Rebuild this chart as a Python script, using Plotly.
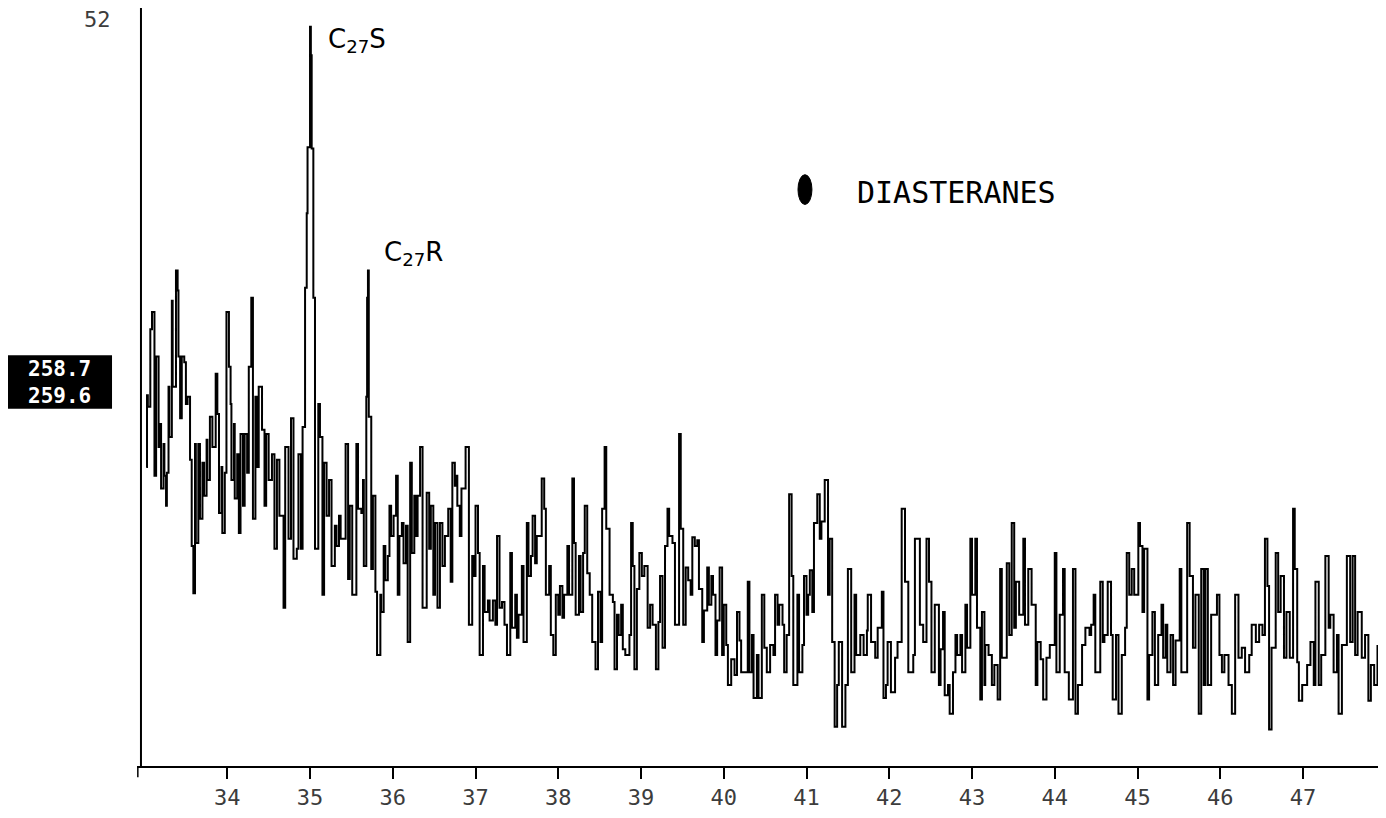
import plotly.graph_objects as go

# Retention time (min) and ion intensity (m/z 258.7-259.6)
time_min = [
33.02,33.03,33.04,33.07,33.09,33.12,33.14,33.17,33.19,33.20,33.23,33.24,33.26,33.27,33.29,33.30,33.33,33.34,33.38,33.40,
33.41,33.43,33.45,33.48,33.50,33.52,33.55,33.57,33.59,33.61,33.62,33.65,33.67,33.70,33.72,33.75,33.76,33.79,33.82,33.86,
33.88,33.90,33.93,33.94,33.97,33.99,34.02,34.04,34.05,34.08,34.09,34.12,34.14,34.16,34.19,34.21,34.24,34.26,34.29,34.31,
34.34,34.36,34.38,34.42,34.45,34.47,34.50,34.54,34.57,34.60,34.63,34.68,34.70,34.74,34.77,34.80,34.84,34.86,34.89,34.91,
34.94,34.96,34.97,35.00,35.01,35.02,35.04,35.06,35.10,35.12,35.15,35.17,35.20,35.23,35.26,35.30,35.32,35.35,35.37,35.43,
35.46,35.48,35.51,35.56,35.58,35.62,35.64,35.65,35.68,35.69,35.70,35.71,35.74,35.76,35.79,35.81,35.85,35.86,35.89,35.91,
35.94,35.96,35.98,36.01,36.04,36.06,36.08,36.11,36.13,36.16,36.18,36.21,36.23,36.26,36.28,36.30,36.33,36.36,36.41,36.44,
36.46,36.49,36.51,36.54,36.57,36.60,36.63,36.67,36.70,36.72,36.75,36.77,36.78,36.81,36.83,36.88,36.92,36.96,36.98,37.00,
37.03,37.05,37.09,37.11,37.15,37.17,37.21,37.24,37.26,37.29,37.32,37.35,37.38,37.42,37.44,37.48,37.50,37.52,37.56,37.58,
37.62,37.64,37.67,37.69,37.72,37.74,37.80,37.83,37.85,37.89,37.91,37.94,37.97,38.00,38.02,38.05,38.07,38.11,38.13,38.17,
38.19,38.21,38.25,38.27,38.30,38.32,38.35,38.38,38.41,38.45,38.48,38.51,38.53,38.56,38.58,38.62,38.66,38.68,38.71,38.73,
38.76,38.78,38.81,38.86,38.88,38.90,38.92,38.95,38.98,39.01,39.04,39.08,39.11,39.14,39.18,39.21,39.23,39.26,39.29,39.32,
39.34,39.38,39.41,39.46,39.48,39.51,39.54,39.57,39.60,39.62,39.65,39.68,39.70,39.74,39.76,39.80,39.82,39.85,39.87,39.90,
39.92,39.95,39.98,40.00,40.03,40.05,40.09,40.13,40.16,40.19,40.21,40.29,40.31,40.34,40.36,40.40,40.42,40.46,40.49,40.52,
40.56,40.60,40.62,40.65,40.67,40.71,40.73,40.76,40.79,40.82,40.84,40.89,40.91,40.95,40.97,41.00,41.02,41.04,41.07,41.09,
41.13,41.16,41.18,41.22,41.26,41.28,41.31,41.34,41.37,41.39,41.43,41.47,41.50,41.54,41.58,41.60,41.65,41.69,41.73,41.74,
41.78,41.83,41.86,41.91,41.93,41.96,41.98,42.02,42.07,42.10,42.15,42.19,42.23,42.29,42.31,42.37,42.41,42.45,42.48,42.51,
42.55,42.60,42.62,42.65,42.67,42.71,42.73,42.77,42.80,42.82,42.86,42.88,42.92,42.94,42.98,43.00,43.04,43.06,43.10,43.12,
43.15,43.16,43.20,43.24,43.27,43.31,43.34,43.36,43.42,43.45,43.48,43.51,43.53,43.57,43.62,43.64,43.68,43.72,43.77,43.79,
43.83,43.86,43.90,43.94,44.00,44.02,44.06,44.10,44.12,44.17,44.22,44.25,44.28,44.33,44.37,44.42,44.44,44.47,44.49,44.55,
44.58,44.60,44.64,44.68,44.70,44.74,44.77,44.81,44.85,44.87,44.90,44.93,44.96,45.01,45.03,45.06,45.08,45.12,45.14,45.18,
45.21,45.25,45.29,45.31,45.34,45.36,45.40,45.43,45.46,45.51,45.53,45.60,45.63,45.67,45.70,45.74,45.77,45.80,45.82,45.85,
45.89,45.96,45.99,46.02,46.05,46.10,46.14,46.18,46.22,46.26,46.30,46.35,46.38,46.43,46.47,46.51,46.54,46.57,46.59,46.62,
46.67,46.70,46.73,46.77,46.80,46.84,46.88,46.90,46.93,46.95,46.99,47.05,47.09,47.13,47.15,47.19,47.22,47.27,47.31,47.33,
47.37,47.41,47.43,47.47,47.53,47.57,47.60,47.63,47.66,47.71,47.75,47.79,47.82,47.86,47.90,
]

intensity = [
20.7,25.7,24.9,30.3,31.5,20.1,28.4,22.1,23.7,19.2,22.3,20.1,18.0,20.3,26.3,22.8,32.3,26.3,34.4,33.0,
28.4,24.1,28.4,28.0,25.1,25.6,21.2,15.2,11.9,22.3,15.4,22.3,17.1,21.0,18.7,22.6,19.8,24.2,22.1,27.2,
24.4,17.5,20.7,16.1,20.3,31.5,27.7,25.1,19.8,23.7,18.5,21.6,16.1,23.0,18.0,23.0,20.3,27.7,32.5,17.1,
25.6,20.7,26.3,23.3,18.0,23.0,19.8,21.6,15.0,21.2,17.3,10.9,22.1,15.7,24.1,14.3,15.0,21.6,15.0,23.5,
33.2,38.4,43.0,51.4,49.4,42.9,32.5,15.0,25.1,22.8,11.8,21.0,17.3,19.8,13.8,16.6,15.2,17.3,15.7,22.3,
12.9,18.0,11.8,22.3,17.8,17.5,19.8,13.8,25.6,32.5,34.4,24.2,13.6,18.7,12.0,7.6,11.8,10.6,15.2,12.8,
14.5,18.0,15.9,17.3,20.1,11.8,15.9,16.8,14.0,16.6,8.5,21.0,14.7,18.7,15.9,18.7,22.1,10.9,18.9,15.0,
18.0,11.8,16.8,10.9,16.8,13.8,15.9,17.8,12.7,21.0,19.4,20.1,18.0,15.9,19.2,22.1,9.7,14.5,13.1,18.0,
14.7,7.6,13.8,10.6,11.4,10.0,11.4,9.7,15.9,10.9,11.3,9.7,7.6,14.7,9.5,11.8,8.8,10.4,13.8,8.5,
16.8,13.1,14.5,17.3,14.0,15.9,19.9,17.8,11.8,13.8,9.0,7.6,11.8,10.4,12.4,10.2,11.8,15.2,11.8,19.9,
15.4,10.4,14.5,10.6,14.7,18.0,13.3,11.8,8.5,6.6,12.0,8.5,17.8,22.1,16.4,11.8,11.3,6.6,10.4,9.0,
11.1,8.0,7.6,9.0,16.8,13.8,6.6,12.2,14.7,13.1,13.8,9.5,11.1,9.7,6.6,9.9,13.1,8.1,15.2,17.8,
15.9,15.4,9.7,23.0,16.4,9.7,13.7,12.8,11.8,15.8,15.2,15.6,12.2,8.5,10.7,13.7,11.1,13.1,11.8,7.6,
10.0,13.7,7.6,11.1,8.3,5.5,7.3,6.2,10.6,8.6,6.4,12.7,6.4,9.0,4.6,7.6,4.6,11.8,8.1,6.4,
8.3,7.6,11.8,9.7,11.1,9.7,6.4,9.0,18.8,13.1,5.5,11.8,6.4,8.3,13.1,10.4,11.8,13.5,10.6,16.8,
18.8,15.7,16.9,19.8,11.8,15.7,8.5,2.6,5.5,8.5,2.6,5.5,13.6,6.4,11.8,7.6,9.0,7.6,9.3,11.8,
8.5,7.4,9.5,12.0,4.6,5.5,8.5,5.0,7.4,8.5,17.8,12.7,6.4,7.6,15.7,9.7,8.5,15.7,12.7,6.4,
11.1,5.5,8.0,10.6,4.8,5.5,3.5,6.4,9.0,7.6,9.0,6.4,11.1,8.1,15.7,11.8,15.7,9.5,4.5,10.6,
5.5,8.3,7.6,5.5,6.9,4.5,13.6,7.4,14.0,9.0,16.8,9.5,12.7,10.4,15.7,9.7,13.6,11.1,5.5,8.5,
7.3,4.5,7.4,8.3,14.7,6.4,10.4,13.6,6.4,4.5,13.6,3.5,5.5,8.3,9.5,9.0,9.7,11.8,6.4,12.7,
8.5,9.0,12.7,9.0,4.5,9.0,3.5,7.6,9.5,14.7,11.8,13.6,11.8,16.8,15.2,10.6,15.0,4.5,7.6,10.6,
5.5,9.0,11.1,7.4,9.7,6.4,9.0,5.5,8.6,13.6,6.4,16.8,13.1,8.1,11.8,3.5,13.6,5.5,13.6,5.5,
10.4,11.8,7.6,6.4,7.6,5.5,3.5,11.8,7.4,8.1,6.4,7.6,9.7,8.5,9.7,9.0,15.7,12.4,2.4,8.1,
14.7,10.6,13.1,7.4,10.6,7.4,17.8,13.6,7.1,4.4,5.5,6.9,8.5,5.5,12.7,5.5,7.6,14.5,9.5,10.4,
6.4,9.0,3.5,8.3,14.5,8.5,14.5,7.6,10.6,7.4,9.0,4.4,6.9,5.5,8.3,
]

tick_minutes = [34, 35, 36, 37, 38, 39, 40, 41, 42, 43, 44, 45, 46, 47]
full_scale_label = "52"
mass_window = ["258.7", "259.6"]
peak_labels = ["C<sub>27</sub>S", "C<sub>27</sub>R"]
legend_label = "DIASTERANES"

assert len(time_min) == len(intensity)

X_MIN, X_MAX = 32.909, 48.003
Y_MIN, Y_MAX = -0.14, 52.7
Y_AXIS_AT = 32.957

mono = "DejaVu Sans Mono"
label_grey = "#3c3c3c"

fig = go.Figure()
fig.add_trace(go.Scatter(
    x=time_min, y=intensity, mode="lines",
    line=dict(color="black", width=2, shape="hv"),
    showlegend=False, hoverinfo="skip",
))

fig.update_layout(
    width=1378, height=802,
    margin=dict(l=129, r=0, t=0, b=38, pad=0),
    paper_bgcolor="white", plot_bgcolor="white",
    xaxis=dict(
        range=[X_MIN, X_MAX], showgrid=False, zeroline=False,
        showline=True, linecolor="black", linewidth=2,
        ticks="outside", ticklen=11, tickwidth=1.5, tickcolor="black",
        tickvals=tick_minutes, ticktext=[str(t) for t in tick_minutes],
        tickfont=dict(family=mono, size=22, color=label_grey),
    ),
    yaxis=dict(range=[Y_MIN, Y_MAX], visible=False),
)

# vertical intensity axis and left end tick of the time axis
fig.add_shape(type="line", xref="x", yref="paper", x0=Y_AXIS_AT, x1=Y_AXIS_AT, y0=0, y1=1,
              line=dict(color="black", width=2))
fig.add_shape(type="line", xref="x", yref="paper", x0=X_MIN + 0.01, x1=X_MIN + 0.01,
              y0=0, y1=-0.015, line=dict(color="black", width=1.5))

# full scale label
fig.add_annotation(xref="paper", yref="paper", x=-0.0192, y=0.9843, xanchor="right", yanchor="middle",
                   text=full_scale_label, showarrow=False,
                   font=dict(family=mono, size=22, color=label_grey))

# mass window box (one two-line text)
fig.add_shape(type="rect", xref="paper", yref="paper", x0=-0.1033, x1=-0.0200, y0=0.4712, y1=0.5419,
              fillcolor="black", line=dict(width=0))
fig.add_annotation(xref="paper", yref="paper", x=-0.0617, y=0.5065, xanchor="center", yanchor="middle",
                   text="<br>".join(mass_window), showarrow=False, borderpad=0,
                   font=dict(family=mono, size=21, color="white", weight="bold"))

# peak labels
fig.add_annotation(xref="paper", yref="paper", x=0.1513, y=0.9817, xanchor="left", yanchor="top",
                   text=peak_labels[0], showarrow=False,
                   font=dict(family="DejaVu Sans", size=26, color="black"))
fig.add_annotation(xref="paper", yref="paper", x=0.1962, y=0.7003, xanchor="left", yanchor="top",
                   text=peak_labels[1], showarrow=False,
                   font=dict(family="DejaVu Sans", size=26, color="black"))

# legend marker and label
fig.add_shape(type="circle", xref="paper", yref="paper", x0=0.5292, x1=0.5404, y0=0.7408, y1=0.7801,
              fillcolor="black", line=dict(color="black", width=1))
fig.add_annotation(xref="paper", yref="paper", x=0.5749, y=0.7565, xanchor="left", yanchor="middle",
                   text=legend_label, showarrow=False,
                   font=dict(family=mono, size=30, color="black"))

fig.write_html("out.html")
